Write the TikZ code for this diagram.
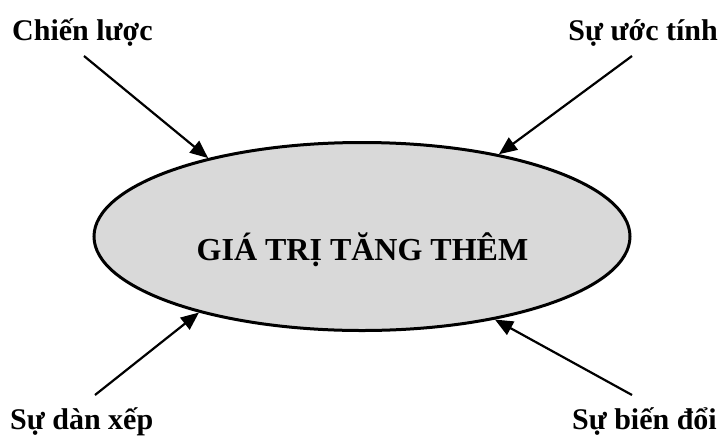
\documentclass[tikz,border=0pt]{standalone}
\usepackage{fontspec}
\setmainfont{Liberation Serif}
\usetikzlibrary{arrows.meta,shapes.geometric}
\begin{document}
\begin{tikzpicture}[x=1pt,y=-1pt,
  lbl/.style={font=\fontsize{30}{36}\selectfont\bfseries, inner sep=0pt},
  ttl/.style={font=\fontsize{32}{38}\selectfont\bfseries, inner sep=0pt},
  oval/.style={ellipse, draw=black, line width=3pt, fill=black!15, minimum width=536pt, minimum height=188pt, inner sep=0pt},
  arr/.style={line width=2.2pt, -{Triangle[length=18pt,width=15pt]}}]
\useasboundingbox (0,0) rectangle (720,437);
\node[oval] (E) at (362,236.5) {};
\node[ttl, anchor=base] (T) at (362.5,260) {GIÁ TRỊ TĂNG THÊM};
\node[lbl, anchor=base west] (L1) at (12,40) {Chiến lược};
\node[lbl, anchor=base east] (L2) at (718,40) {Sự ước tính};
\node[lbl, anchor=base west] (L3) at (10,429) {Sự dàn xếp};
\node[lbl, anchor=base east] (L4) at (717,429) {Sự biến đổi};
\coordinate (s1) at (84,56);
\coordinate (s2) at (632,56);
\coordinate (s3) at (95,395);
\coordinate (s4) at (632,395);
\draw[arr] (s1) -- (E.153.7);
\draw[arr] (s2) -- (E.31.4);
\draw[arr] (s3) -- (E.205);
\draw[arr] (s4) -- (E.328.3);
\end{tikzpicture}
\end{document}
